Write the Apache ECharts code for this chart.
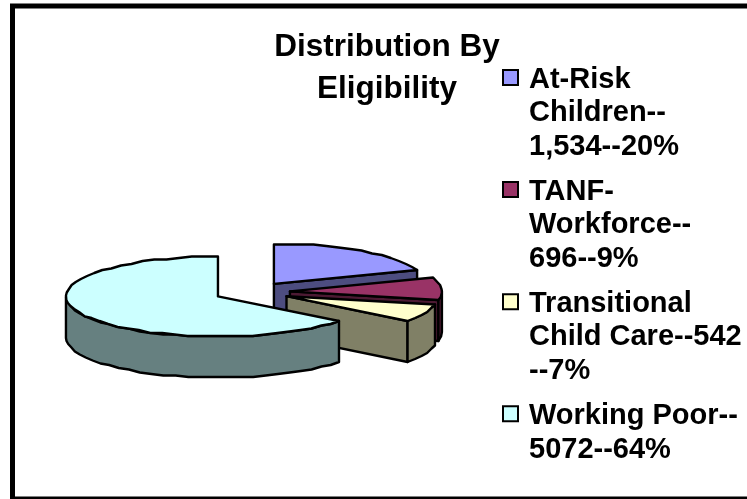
<!DOCTYPE html>
<html>
<head>
<meta charset="utf-8">
<style>html,body{margin:0;padding:0;background:#fff}#c{width:747px;height:499px}</style>
<script src="https://cdn.jsdelivr.net/npm/echarts@6/dist/echarts.min.js"></script>
</head>
<body>
<div id="c"></div>
<script>
var categories = ['At-Risk Children', 'TANF-Workforce', 'Transitional Child Care', 'Working Poor'];
var values = [1534, 696, 542, 5072];
var legendLines = [
  ['At-Risk', 'Children--', '1,534--20%'],
  ['TANF-', 'Workforce--', '696--9%'],
  ['Transitional', 'Child Care--542', '--7%'],
  ['Working Poor--', '5072--64%']
];
var topColors = ['#9999FF', '#993366', '#FFFFCC', '#CCFFFF'];
var sideColors = ['#4D4D80', '#4D1A33', '#808066', '#668080'];

var CX = 252, CY = 292, RX = 152, RY = 40, DEPTH = 41, EXPLODE = 0.25, STEP = 5, GRID = 1.5;
var total = values.reduce(function (a, b) { return a + b; }, 0);
var rad = Math.PI / 180;

function pt(cx, cy, deg, dz) {
  // the original's rim is a slightly stair-stepped outline, so rim heights snap to a small grid
  var y = cy - RY * Math.cos(deg * rad);
  return [cx + RX * Math.sin(deg * rad), Math.round(y / GRID) * GRID + dz];
}
function arc(cx, cy, a1, a2, dz) {
  var out = [], n = Math.max(1, Math.round((a2 - a1) / STEP));
  for (var i = 0; i <= n; i++) out.push(pt(cx, cy, a1 + (a2 - a1) * i / n, dz));
  return out;
}
function poly(points, fill) {
  return { type: 'polygon', shape: { points: points },
    style: { fill: fill, stroke: '#000', lineWidth: 2.4, lineJoin: 'round' } };
}
function renderSlice(params, api) {
  var i = params.dataIndex, before = 0;
  for (var k = 0; k < i; k++) before += values[k];
  var a1 = before / total * 360, a2 = (before + api.value(0)) / total * 360, mid = (a1 + a2) / 2;
  var ax = CX + EXPLODE * RX * Math.sin(mid * rad), ay = CY - EXPLODE * RY * Math.cos(mid * rad);
  var kids = [];
  if (a2 < 180) {
    var e = pt(ax, ay, a2, 0);
    kids.push(poly([[ax, ay], e, [e[0], e[1] + DEPTH], [ax, ay + DEPTH]], sideColors[i]));
  }
  var w1 = Math.max(a1, 90), w2 = Math.min(a2, 270);
  if (w2 > w1) {
    kids.push(poly(arc(ax, ay, w1, w2, 0).concat(arc(ax, ay, w1, w2, DEPTH).reverse()), sideColors[i]));
  }
  kids.push(poly([[ax, ay]].concat(arc(ax, ay, a1, a2, 0)), topColors[i]));
  return { type: 'group', children: kids };
}

var legendGraphics = [];
var LINE = 33.7, y = 65;
var iconY = 62;
legendLines.forEach(function (lines, i) {
  legendGraphics.push({ type: 'rect', shape: { x: 503, y: iconY + 8, width: 15, height: 15 },
    style: { fill: topColors[i], stroke: '#000', lineWidth: 2 } });
  lines.forEach(function (t, j) {
    legendGraphics.push({ type: 'text', x: 529, y: y + j * LINE,
      style: { text: t, fill: '#000', font: 'bold 29px "Liberation Sans", Arial, sans-serif', textBaseline: 'top' } });
  });
  y += lines.length * LINE + 11;
  iconY += lines.length * LINE + 11;
});

var chart = echarts.init(document.getElementById('c'), null, { renderer: 'canvas' });
chart.setOption({
  animation: false,
  backgroundColor: '#fff',
  title: {
    text: 'Distribution By\nEligibility',
    left: 382, top: 21, textAlign: 'center',
    textStyle: { fontFamily: '"Liberation Sans", Arial, sans-serif', fontWeight: 'bold', fontSize: 31.5, lineHeight: 42, color: '#000' }
  },
  graphic: [{ type: 'rect', silent: true, shape: { x: 12.5, y: 6, width: 800, height: 493 },
    style: { fill: 'none', stroke: '#000', lineWidth: 5 } }].concat(legendGraphics),
  series: [{
    type: 'custom',
    coordinateSystem: 'none',
    silent: true,
    renderItem: renderSlice,
    data: categories.map(function (n, i) { return { name: n, value: [values[i]] }; })
  }]
});
</script>
</body>
</html>
